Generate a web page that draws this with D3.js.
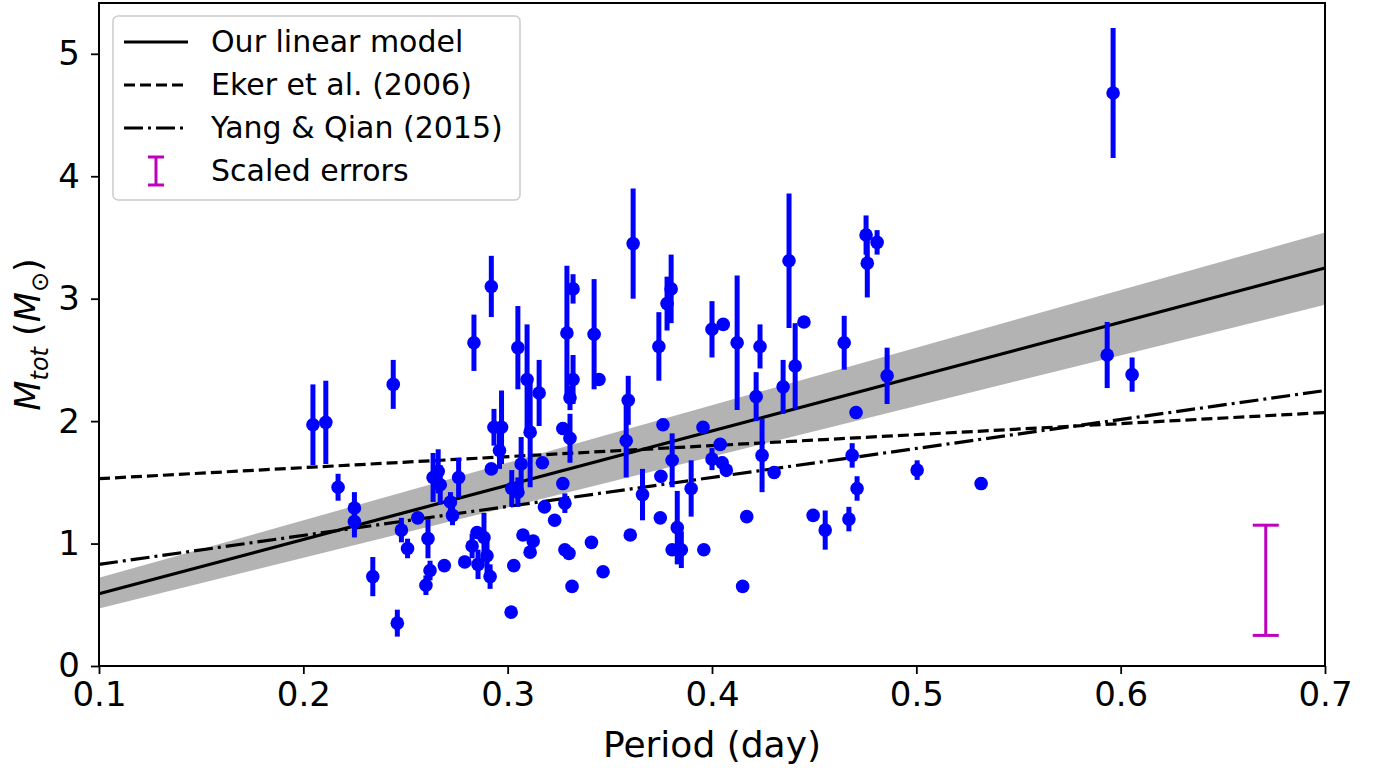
<!DOCTYPE html>
<html><head><meta charset="utf-8">
<script src="https://cdn.jsdelivr.net/npm/d3@7"></script>
<style>body{margin:0;background:#fff}svg{display:block;font-family:"DejaVu Sans",sans-serif}</style>
</head><body><svg id="c" width="1380" height="768"></svg>
<script>
// period (day)
const period = [0.2047,0.211,0.217,0.225,0.225,0.234,0.244,0.246,0.248,0.251,0.256,0.261,0.262,0.260,0.2635,0.266,0.267,0.269,0.273,0.272,0.276,0.2835,0.292,0.292,0.305,0.3095,0.2933,0.297,0.296,0.3066,0.302,0.305,0.3017,0.303,0.317,0.327,0.328,0.318,0.323,0.3075,0.3125,0.311,0.328,0.330,0.341,0.3467,0.3315,0.360,0.366,0.375,0.3747,0.3805,0.383,0.3805,0.385,0.3898,0.396,0.3956,0.404,0.400,0.405,0.407,0.417,0.415,0.4245,0.376,0.359,0.358,0.327,0.3305,0.311,0.3614,0.329,0.332,0.3423,0.3447,0.332,0.3305,0.3154,0.374,0.378,0.380,0.400,0.4055,0.4123,0.4235,0.4216,0.4377,0.4407,0.445,0.4348,0.4647,0.4754,0.476,0.4808,0.4857,0.4705,0.4304,0.4495,0.4554,0.467,0.4686,0.471,0.5004,0.5317,0.5934,0.5963,0.6056,0.2826,0.2855,0.2884,0.2899,0.2914,0.285,0.279];
// total mass (M_sun)
const mass = [1.97,1.99,1.46,1.29,1.18,0.73,2.30,0.35,1.11,0.96,1.21,1.04,0.78,0.66,1.54,1.59,1.48,0.82,1.23,1.34,1.54,2.64,3.10,1.61,2.60,2.34,1.95,1.95,1.76,1.65,1.45,1.42,0.44,0.82,1.66,1.49,1.33,1.30,1.19,1.07,1.02,0.93,0.95,0.92,1.01,0.77,0.65,1.07,1.40,1.55,1.21,1.68,1.13,0.95,0.95,1.45,0.95,1.95,1.81,1.69,1.66,1.60,1.22,0.65,1.72,1.97,2.17,1.84,1.94,1.86,1.91,3.45,2.72,3.08,2.71,2.34,2.34,2.19,2.23,2.61,2.96,3.08,2.75,2.79,2.64,2.61,2.20,3.31,2.45,2.81,2.28,2.64,3.52,3.29,3.46,2.37,2.07,1.58,1.23,1.11,1.20,1.72,1.45,1.60,1.49,2.54,4.68,2.38,0.98,0.83,1.05,0.90,0.73,1.09,0.85];
// mass error (half length)
const massErr = [0.33,0.34,0.11,0.13,0.13,0.16,0.20,0.11,0.10,0.08,0.03,0.16,0.08,0.08,0.20,0.18,0.16,0.03,0.08,0.08,0.16,0.23,0.25,0.03,0.34,0.45,0.15,0.30,0.15,0.22,0.15,0.12,0.03,0.03,0.03,0.05,0.08,0.03,0.03,0.03,0.03,0.03,0.03,0.03,0.03,0.03,0.03,0.03,0.21,0.05,0.03,0.22,0.30,0.03,0.15,0.23,0.03,0.05,0.05,0.09,0.05,0.05,0.03,0.03,0.30,0.05,0.20,0.30,0.05,0.20,0.45,0.45,0.55,0.12,0.45,0.03,0.20,0.10,0.27,0.28,0.22,0.28,0.23,0.03,0.55,0.18,0.20,0.55,0.35,0.03,0.22,0.22,0.16,0.28,0.10,0.23,0.05,0.05,0.03,0.16,0.10,0.10,0.10,0.08,0.05,0.27,0.53,0.14,0.10,0.12,0.20,0.14,0.10,0.03,0.05];

const fitX = [0.1, 0.7];
const ourModel = [0.59, 3.25];
const bandLow = [0.47, 2.95];
const bandHigh = [0.72, 3.54];
const ekerModel = [1.53, 2.07];
const yangModel = [0.83, 2.25];
const scaledErrX = 0.671;
const scaledErrRange = [0.25, 1.15];

const xTicks = [0.1,0.2,0.3,0.4,0.5,0.6,0.7];
const yTicks = [0,1,2,3,4,5];
const legendLabels = ["Our linear model","Eker et al. (2006)","Yang & Qian (2015)","Scaled errors"];

const svg = d3.select("#c");
const L=99, R=1325, T=3, B=666;
const x = d3.scaleLinear().domain([0.1,0.7]).range([L,R]);
const y = d3.scaleLinear().domain([0,5.415]).range([B,T]);

// band
const bandData = fitX.map((v,i)=>({x:v,lo:bandLow[i],hi:bandHigh[i]}));
svg.append("path").datum(bandData)
  .attr("d", d3.area().x(d=>x(d.x)).y0(d=>y(d.lo)).y1(d=>y(d.hi)))
  .attr("fill","#b3b3b3");

const line = d3.line().x(d=>x(d[0])).y(d=>y(d[1]));
const mk = arr => fitX.map((v,i)=>[v,arr[i]]);
svg.append("path").attr("d", line(mk(ourModel))).attr("stroke","#000").attr("stroke-width",3.2).attr("fill","none");
svg.append("path").attr("d", line(mk(ekerModel))).attr("stroke","#000").attr("stroke-width",3.2).attr("fill","none").attr("stroke-dasharray","11,5");
svg.append("path").attr("d", line(mk(yangModel))).attr("stroke","#000").attr("stroke-width",3.2).attr("fill","none").attr("stroke-dasharray","19,5,3,5");

// data
const pts = period.map((p,i)=>({p, m:mass[i], e:massErr[i]}));
const g = svg.append("g");
g.selectAll("line.eb").data(pts).join("line")
  .attr("x1",d=>x(d.p)).attr("x2",d=>x(d.p))
  .attr("y1",d=>y(d.m-d.e)).attr("y2",d=>y(d.m+d.e))
  .attr("stroke","#0000ff").attr("stroke-width",5);
g.selectAll("circle").data(pts).join("circle")
  .attr("cx",d=>x(d.p)).attr("cy",d=>y(d.m)).attr("r",6.8).attr("fill","#0000ff");

// scaled error bar
const sx = x(scaledErrX);
svg.append("line").attr("x1",sx).attr("x2",sx).attr("y1",y(scaledErrRange[0])).attr("y2",y(scaledErrRange[1])).attr("stroke","#bf00bf").attr("stroke-width",3);
scaledErrRange.forEach(v=>svg.append("line").attr("x1",sx-13).attr("x2",sx+13).attr("y1",y(v)).attr("y2",y(v)).attr("stroke","#bf00bf").attr("stroke-width",3));

// axes
const xa = svg.append("g").attr("transform",`translate(0,${B})`)
  .call(d3.axisBottom(x).tickValues(xTicks).tickFormat(d3.format(".1f")).tickSizeOuter(0).tickSize(8).tickPadding(8));
const ya = svg.append("g").attr("transform",`translate(${L},0)`)
  .call(d3.axisLeft(y).tickValues(yTicks).tickFormat(d3.format("d")).tickSizeOuter(0).tickSize(8).tickPadding(11));
[xa,ya].forEach(a=>{a.select(".domain").remove();a.selectAll("line").attr("stroke","#000").attr("stroke-width",1.8);
  a.selectAll("text").attr("font-size",34).attr("font-family","DejaVu Sans").attr("fill","#000");});
svg.append("rect").attr("x",L).attr("y",T).attr("width",R-L).attr("height",B-T).attr("fill","none").attr("stroke","#000").attr("stroke-width",2);

// labels
svg.append("text").attr("x",712).attr("y",757).attr("text-anchor","middle").attr("font-size",36).text("Period (day)");
const yl = svg.append("text").attr("transform",`translate(40,${(T+B)/2}) rotate(-90)`).attr("text-anchor","middle").attr("font-size",35);
yl.append("tspan").attr("font-style","italic").text("M");
yl.append("tspan").attr("font-style","italic").attr("font-size",24).attr("dy",8).text("tot");
yl.append("tspan").attr("dy",-8).text(" (");
yl.append("tspan").attr("font-style","italic").text("M");
yl.append("tspan").attr("font-size",24).attr("dy",8).text("⊙");
yl.append("tspan").attr("dy",-8).text(")");

// legend
const lg = svg.append("g");
lg.append("rect").attr("x",113).attr("y",16).attr("width",407).attr("height",184).attr("rx",5)
  .attr("fill","#fff").attr("fill-opacity",0.85).attr("stroke","#cccccc").attr("stroke-width",1.5);
const ly = [42,85,128,171];
const dashes = [null,"11,5","19,5,3,5"];
[0,1,2].forEach(i=>lg.append("line").attr("x1",124).attr("x2",188).attr("y1",ly[i]).attr("y2",ly[i])
  .attr("stroke","#000").attr("stroke-width",3.2).attr("stroke-dasharray",dashes[i]));
lg.append("line").attr("x1",156).attr("x2",156).attr("y1",ly[3]-14).attr("y2",ly[3]+14).attr("stroke","#bf00bf").attr("stroke-width",3);
[-14,14].forEach(o=>lg.append("line").attr("x1",148).attr("x2",164).attr("y1",ly[3]+o).attr("y2",ly[3]+o).attr("stroke","#bf00bf").attr("stroke-width",3));
legendLabels.forEach((t,i)=>lg.append("text").attr("x",211).attr("y",ly[i]+10).attr("font-size",30).attr("fill","#000").text(t));
</script></body></html>
